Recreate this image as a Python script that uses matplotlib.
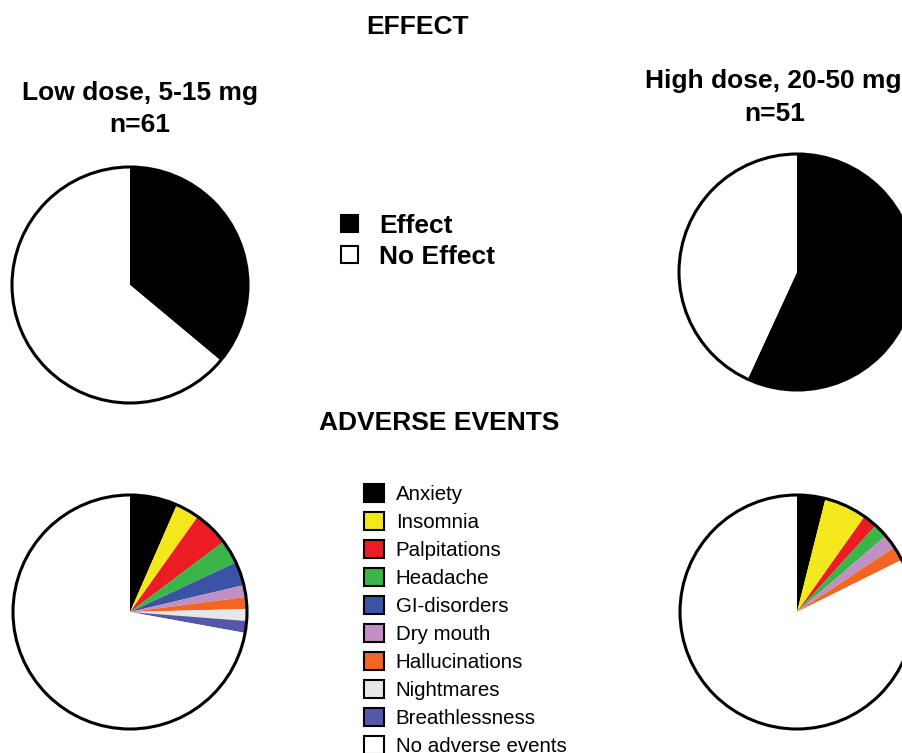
import matplotlib.pyplot as plt
from matplotlib.patches import Patch, Circle

plt.rcParams['font.family'] = ['Liberation Sans', 'DejaVu Sans']

W, H = 903, 753

# effect data (number of patients)
effect_labels = ['Effect', 'No Effect']
effect_colors = ['black', 'white']
low_effect = [22, 39]
high_effect = [29, 22]

# adverse events (number of patients)
ae_labels = ['Anxiety', 'Insomnia', 'Palpitations', 'Headache', 'GI-disorders',
             'Dry mouth', 'Hallucinations', 'Nightmares', 'Breathlessness',
             'No adverse events']
ae_colors = ['#000000', '#f2e81c', '#ec1c24', '#39b54a', '#3a53a4',
             '#c08fc3', '#f26522', '#e6e7e8', '#5558a8', '#ffffff']
low_ae = [4, 2, 3, 2, 2, 1, 1, 1, 1, 44]
high_ae = [2, 3, 1, 1, 0, 1, 1, 0, 0, 42]

fig = plt.figure(figsize=(W / 100, H / 100), dpi=100)


def pie_ax(cx, cy, r, values, colors):
    pad = 1.03
    s = 2 * r * pad
    ax = fig.add_axes([(cx - r * pad) / W, 1 - (cy + r * pad) / H, s / W, s / H])
    ax.pie(values, colors=colors, startangle=90, counterclock=False,
           wedgeprops=dict(linewidth=0))
    ax.add_patch(Circle((0, 0), 1, fill=False, lw=2.2, ec='black'))
    ax.set_xlim(-pad, pad)
    ax.set_ylim(-pad, pad)
    ax.set_aspect('equal')
    ax.axis('off')
    return ax


pie_ax(130, 285, 118, low_effect, effect_colors)
pie_ax(797, 272, 118, high_effect, effect_colors)
pie_ax(130, 612, 117, low_ae, ae_colors)
pie_ax(797, 612, 117, high_ae, ae_colors)


def ftext(x, y, s, **kw):
    fig.text(x / W, 1 - y / H, s, ha='center', va='center', **kw)


ftext(417, 27, 'EFFECT', fontsize=19, fontweight='bold')
ftext(140, 93, 'Low dose, 5-15 mg', fontsize=19, fontweight='bold')
ftext(140, 125, 'n=61', fontsize=19, fontweight='bold')
ftext(773, 81, 'High dose, 20-50 mg', fontsize=19, fontweight='bold')
ftext(775, 114, 'n=51', fontsize=19, fontweight='bold')
ftext(439, 423, 'ADVERSE EVENTS', fontsize=19, fontweight='bold')

# legends
h1 = [Patch(facecolor=c, edgecolor='black', linewidth=1.5) for c in effect_colors]
fig.legend(h1, effect_labels, loc='upper left', bbox_to_anchor=(341 / W, 1 - 214 / H),
           frameon=False, handlelength=0.64, handleheight=0.64, handletextpad=0.8,
           labelspacing=0.25, borderpad=0, borderaxespad=0,
           prop=dict(size=19, weight='bold'))

h2 = [Patch(facecolor=c, edgecolor='black', linewidth=1.5) for c in ae_colors]
fig.legend(h2, ae_labels, loc='upper left', bbox_to_anchor=(364 / W, 1 - 484 / H),
           frameon=False, handlelength=0.95, handleheight=0.95, handletextpad=0.6,
           labelspacing=0.395, borderpad=0, borderaxespad=0,
           prop=dict(size=14.8))

fig.savefig('out.png', dpi=100)
